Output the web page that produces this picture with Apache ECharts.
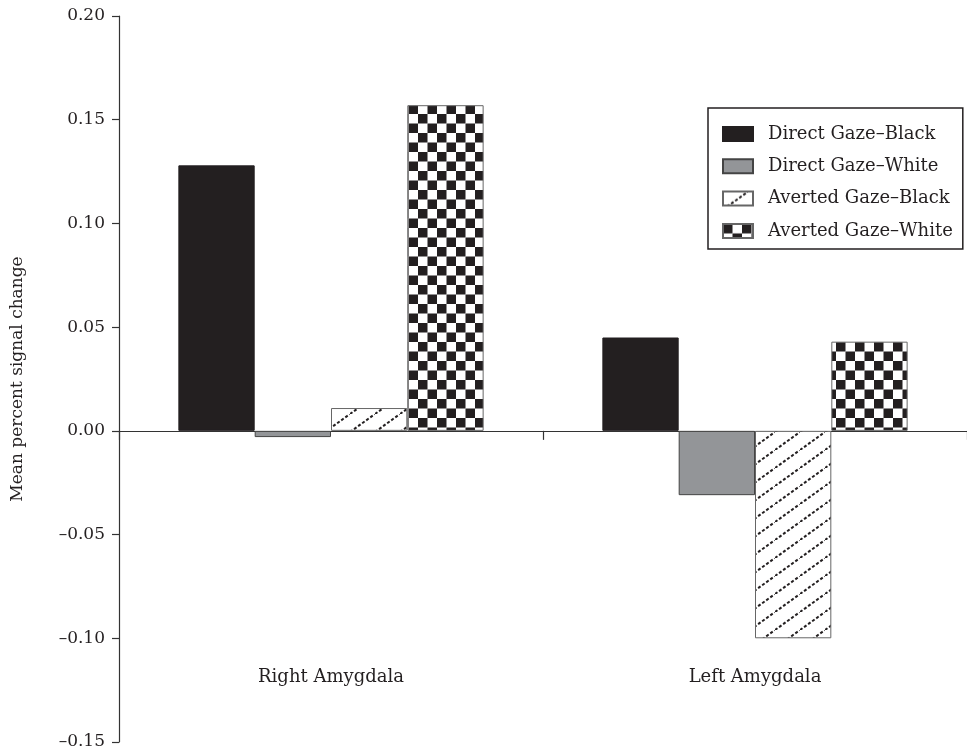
<!DOCTYPE html>
<html>
<head>
<meta charset="utf-8">
<script src="https://cdn.jsdelivr.net/npm/echarts@6/dist/echarts.min.js"></script>
<style>
html,body{margin:0;padding:0;background:#fff;}
#c{width:967px;height:751px;}
</style>
</head>
<body>
<div id="c"></div>
<script>
const categories = ['Right Amygdala', 'Left Amygdala'];
const seriesNames = ['Direct Gaze–Black', 'Direct Gaze–White', 'Averted Gaze–Black', 'Averted Gaze–White'];
const directBlack = [0.128, 0.045];
const directWhite = [-0.003, -0.031];
const avertedBlack = [0.011, -0.100];
const avertedWhite = [0.157, 0.043];
const yTicks = [-0.15, -0.10, -0.05, 0.00, 0.05, 0.10, 0.15, 0.20];

function checker() {
  const c = document.createElement('canvas');
  c.width = 19; c.height = 19;
  const g = c.getContext('2d');
  g.fillStyle = '#fff'; g.fillRect(0, 0, 19, 19);
  g.fillStyle = '#231f20';
  g.fillRect(0, 0, 9.5, 9.5);
  g.fillRect(9.5, 9.5, 9.5, 9.5);
  return c;
}
function hatch() {
  const c = document.createElement('canvas');
  c.width = 25; c.height = 18;
  const g = c.getContext('2d');
  g.fillStyle = '#fff'; g.fillRect(0, 0, 25, 18);
  g.strokeStyle = '#231f20';
  g.lineWidth = 2;
  g.setLineDash([3, 2]);
  g.beginPath(); g.moveTo(0, 18); g.lineTo(25, 0); g.stroke();
  return c;
}

const fills = [
  '#231f20',
  '#939598',
  { image: hatch(), repeat: 'repeat' },
  { image: checker(), repeat: 'repeat' }
];
const borders = ['#231f20', '#444', '#666', '#666'];
const dataSets = [directBlack, directWhite, avertedBlack, avertedWhite];

const font = '"DejaVu Serif", "Liberation Serif", serif';
const chart = echarts.init(document.getElementById('c'));
chart.setOption({
  animation: false,
  backgroundColor: '#fff',
  textStyle: { fontFamily: font },
  grid: { left: 119, right: 0, top: 16, bottom: 9, containLabel: false, outerBoundsMode: 'none' },
  legend: {
    orient: 'vertical',
    left: 708,
    top: 108,
    padding: [17, 10, 9, 14],
    itemWidth: 30,
    itemHeight: 14,
    itemGap: 14.3,
    icon: 'rect',
    borderColor: '#231f20',
    borderWidth: 1.5,
    borderRadius: 0,
    data: seriesNames,
    textStyle: { fontFamily: font, fontSize: 18, color: '#231f20', lineHeight: 16, padding: [0, 0, 0, 10] }
  },
  xAxis: {
    type: 'category',
    data: categories,
    axisLine: { onZero: true, lineStyle: { color: '#333', width: 1.2 } },
    axisTick: { show: true, length: 9, lineStyle: { color: '#333', width: 1.2 } },
    axisLabel: { margin: -74, fontFamily: font, fontSize: 18, color: '#231f20' },
    splitLine: { show: false }
  },
  yAxis: {
    type: 'value',
    min: -0.15,
    max: 0.20,
    interval: 0.05,
    name: 'Mean percent signal change',
    nameLocation: 'middle',
    nameGap: 93,
    nameTextStyle: { fontFamily: font, fontSize: 17, color: '#231f20' },
    axisLine: { show: true, lineStyle: { color: '#333', width: 1.2 } },
    axisTick: { show: true, length: 7, lineStyle: { color: '#333', width: 1.2 } },
    axisLabel: {
      margin: 14, fontFamily: font, fontSize: 17, color: '#231f20',
      formatter: v => {
        const t = yTicks.find(x => Math.abs(x - v) < 1e-9);
        const val = t !== undefined ? t : v;
        return (val < 0 ? '–' : '') + Math.abs(val).toFixed(2);
      }
    },
    splitLine: { show: false }
  },
  series: seriesNames.map((n, i) => ({
    name: n,
    type: 'bar',
    data: dataSets[i],
    barGap: '0%',
    barCategoryGap: '28%',
    itemStyle: { color: fills[i], borderColor: borders[i], borderWidth: 1 },
    emphasis: { disabled: true }
  }))
});
</script>
</body>
</html>
